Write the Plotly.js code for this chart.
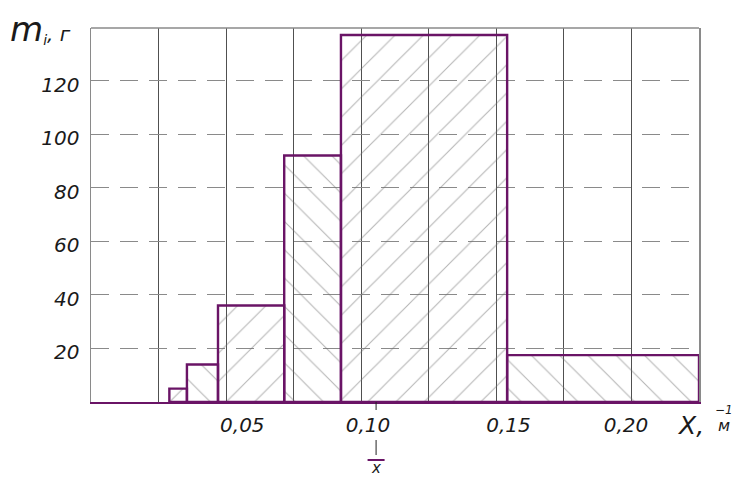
<!DOCTYPE html>
<html><head><meta charset="utf-8">
<script src="https://cdn.plot.ly/plotly-3.0.1.min.js"></script>
<style>html,body{margin:0;padding:0;background:#fff}#chart{width:739px;height:477px}</style>
</head><body><div id="chart"></div>
<script>
// Data
const binEdges = [0.029, 0.0355, 0.047, 0.0715, 0.0925, 0.154, 0.225];
const massValues = [5, 14, 36, 92, 137, 17.5];
const hatchShapes = ['/', '\\', '/', '\\', '/', '\\'];
const xTickPositions = [0.056, 0.1025, 0.1545, 0.198];
const xTickLabels = ['0,05', '0,10', '0,15', '0,20'];
const yTickValues = [20, 40, 60, 80, 100, 120];
const yTickLabels = ['20', '40', '60', '80', '100', '120'];
const xMean = 0.1055;

const centers = massValues.map((_, i) => (binEdges[i] + binEdges[i + 1]) / 2);
const widths = massValues.map((_, i) => binEdges[i + 1] - binEdges[i]);

const PURPLE = '#6a1466';
const FONT = 'DejaVu Sans';
const W = 608, H = 374, L = 91, T = 28;
const px = v => (v - L) / W;          // pixel -> paper x
const py = v => (T + H - v) / H;      // pixel -> paper y

const bars = {
  type: 'bar',
  x: centers,
  y: massValues,
  width: widths,
  hoverinfo: 'skip',
  marker: {
    color: 'rgba(0,0,0,0)',
    line: {color: PURPLE, width: 2.4},
    pattern: {shape: hatchShapes, fgcolor: '#6e6e6e', bgcolor: 'rgba(0,0,0,0)', size: 20, solidity: 0.055, fillmode: 'overlay'}
  }
};
const axisHelper = {type: 'scatter', x: [xTickPositions[0]], y: [0], xaxis: 'x2', mode: 'markers', marker: {opacity: 0}, hoverinfo: 'skip', showlegend: false};

const itf = (size) => ({family: FONT, size: size, color: '#1a1a1a', style: 'italic'});

const layout = {
  width: 739, height: 477,
  margin: {l: L, r: 739 - L - W, t: T, b: 477 - T - H, pad: 0},
  paper_bgcolor: '#fff', plot_bgcolor: '#fff',
  showlegend: false,
  bargap: 0,
  xaxis: {
    range: [0, 0.225], tick0: 0, dtick: 0.025, showgrid: true, gridcolor: '#505050', gridwidth: 1,
    showticklabels: false, ticks: '', zeroline: false,
    showline: true, linecolor: PURPLE, linewidth: 2.4
  },
  xaxis2: {
    overlaying: 'x', anchor: 'y', side: 'bottom', range: [0, 0.225],
    tickmode: 'array', tickvals: xTickPositions, ticktext: xTickLabels,
    showgrid: false, zeroline: false, showline: false, ticks: '',
    tickfont: itf(20), ticklabelstandoff: 9
  },
  yaxis: {
    range: [0, 139.6], tickmode: 'array', tickvals: yTickValues, ticktext: yTickLabels,
    showgrid: true, gridcolor: '#8a8a8a', gridwidth: 1, griddash: '18px,11px',
    zeroline: false, ticks: '', showline: true, linecolor: '#8a8a8a', linewidth: 1.5, mirror: true,
    tickfont: itf(20), ticklabelstandoff: 6, ticklabelshift: 4
  },
  shapes: [
    {type: 'line', xref: 'paper', yref: 'paper', x0: 0, x1: 1, y0: 1, y1: 1, line: {color: '#8a8a8a', width: 1.5}},
    {type: 'line', xref: 'x', yref: 'paper', x0: xMean, x1: xMean, y0: py(402), y1: py(410), line: {color: '#222', width: 1}},
    {type: 'line', xref: 'x', yref: 'paper', x0: xMean, x1: xMean, y0: py(440), y1: py(455), line: {color: '#222', width: 1}},
    {type: 'line', xref: 'x', xsizemode: 'pixel', xanchor: xMean, yref: 'paper', x0: -8.5, x1: 8.5, y0: py(460), y1: py(460), line: {color: PURPLE, width: 2}}
  ],
  annotations: [
    {xref: 'paper', yref: 'paper', x: px(8), y: py(29), xanchor: 'left', yanchor: 'middle', showarrow: false,
     text: '<span style="font-size:34px">m</span><sub>i</sub>, г', font: itf(20)},
    {xref: 'paper', yref: 'paper', x: px(675), y: py(425), xanchor: 'left', yanchor: 'middle', showarrow: false,
     text: 'X,', font: itf(25)},
    {xref: 'paper', yref: 'paper', x: px(724), y: py(425), xanchor: 'center', yanchor: 'middle', showarrow: false,
     text: 'м', font: itf(16)},
    {xref: 'paper', yref: 'paper', x: px(724), y: py(410), xanchor: 'center', yanchor: 'middle', showarrow: false,
     text: '−1', font: itf(12)},
    {xref: 'x', yref: 'paper', x: xMean, y: py(468), xanchor: 'center', yanchor: 'middle', showarrow: false,
     text: 'x', font: itf(15)}
  ]
};

Plotly.newPlot('chart', [bars, axisHelper], layout, {staticPlot: true, displayModeBar: false});
</script></body></html>
